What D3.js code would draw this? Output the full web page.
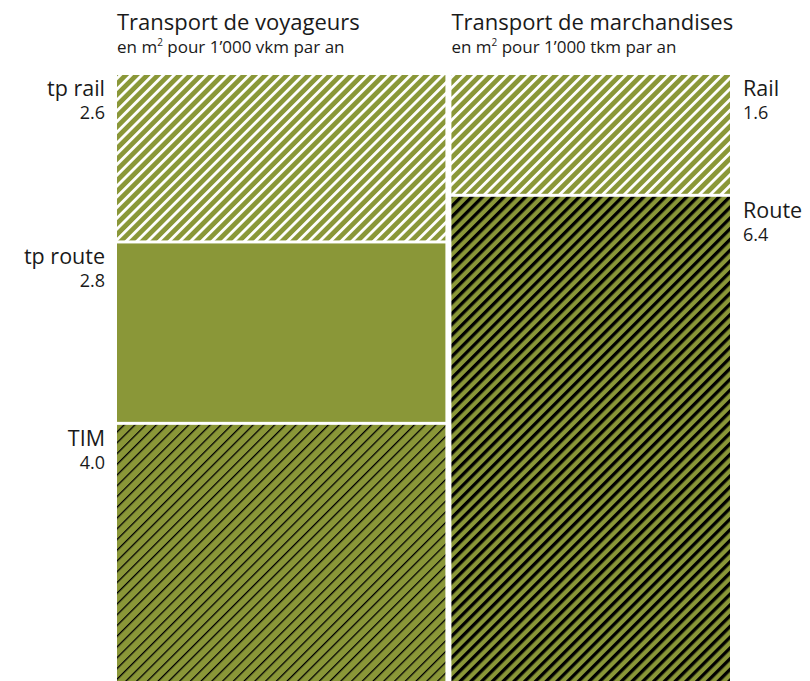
<!DOCTYPE html>
<html><head><meta charset="utf-8">
<script src="https://cdn.jsdelivr.net/npm/d3@7"></script>
<style>body{margin:0;background:#fff}text{font-family:"Open Sans","Noto Sans",sans-serif;fill:#1a1a1a}</style>
</head><body><svg id="c" width="810" height="681"></svg>
<script>
const groups = ["Transport de voyageurs", "Transport de marchandises"];
const subtitles = ["vkm", "tkm"];
const segLabels = [["tp rail", "tp route", "TIM"], ["Rail", "Route"]];
const segValues = [[2.6, 2.8, 4.0], [1.6, 6.4]];
const segPatterns = [["whiteHatch", "solid", "thinBlack"], ["whiteHatch", "thickBlack"]];

const olive = "#8a9738";
const svg = d3.select("#c");
const defs = svg.append("defs");
function hatch(id, color, w) {
  const s = 7.6;
  const p = defs.append("pattern").attr("id", id).attr("patternUnits", "userSpaceOnUse")
    .attr("width", s).attr("height", s).attr("patternTransform", "rotate(45)");
  p.append("rect").attr("width", s).attr("height", s).attr("fill", olive);
  p.append("rect").attr("x", 0).attr("y", 0).attr("width", w).attr("height", s).attr("fill", color);
}
hatch("whiteHatch", "#fff", 2.8);
hatch("thinBlack", "#000", 1.3);
hatch("thickBlack", "#000", 3.3);

const totals = segValues.map(v => d3.sum(v));
const cum = [0, ...d3.cumsum(totals)];
const gap = 6, vgap = 3;
const x = d3.scaleLinear().domain([0, d3.sum(totals)]).range([117, 730 + gap]);

groups.forEach((g, i) => {
  const x0 = x(cum[i]), x1 = x(cum[i + 1]) - gap;
  const y = d3.scaleLinear().domain([0, totals[i]]).range([75, 681 + vgap]);
  const starts = [0, ...d3.cumsum(segValues[i])];
  svg.append("text").attr("x", x0).attr("y", 30).attr("font-size", 22).text(g);
  const st = svg.append("text").attr("x", x0).attr("y", 53).attr("font-size", 17);
  st.append("tspan").text("en m");
  st.append("tspan").attr("font-size", 10).attr("dy", -7).text("2");
  st.append("tspan").attr("dy", 7).text(" pour 1\u2019000 " + subtitles[i] + " par an");
  segValues[i].forEach((v, j) => {
    const y0 = y(starts[j]), y1 = y(starts[j + 1]) - vgap;
    const pat = segPatterns[i][j];
    svg.append("rect").attr("x", x0).attr("y", y0).attr("width", x1 - x0).attr("height", y1 - y0)
      .attr("fill", pat === "solid" ? olive : `url(#${pat})`);
    const left = i === 0;
    const lx = left ? x0 - 12 : x1 + 13;
    const anchor = left ? "end" : "start";
    svg.append("text").attr("x", lx).attr("y", y0 + 21).attr("text-anchor", anchor)
      .attr("font-size", 21.5).text(segLabels[i][j]);
    svg.append("text").attr("x", lx).attr("y", y0 + 44).attr("text-anchor", anchor)
      .attr("font-size", 18).text(v.toFixed(1));
  });
});
</script></body></html>
